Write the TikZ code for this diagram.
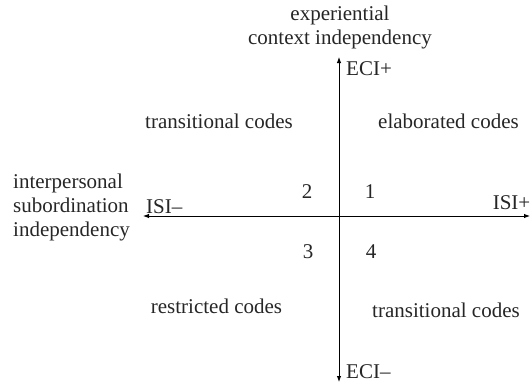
\documentclass[tikz,border=0pt]{standalone}
\usepackage{fontspec}
\setmainfont{Liberation Serif}
\usetikzlibrary{positioning,arrows.meta}

\begin{document}
\begin{tikzpicture}[
    x=1pt, y=-1pt,
    axis/.style={draw, line width=0.9pt, {Latex[length=6pt,width=4.5pt]}-{Latex[length=6pt,width=4.5pt]}},
    every node/.style={inner sep=0pt, font=\fontsize{21}{24}\selectfont, text=black!85}
]
\useasboundingbox (0,0) rectangle (531,383);

% axis ends
\coordinate (top) at (339,57);
\coordinate (bottom) at (339,382);
\coordinate (left) at (143,216);
\coordinate (right) at (530,216);

\draw[axis] (top) -- (bottom);
\draw[axis] (left) -- (right);

% axis titles
\node[anchor=south, align=center] (ecititle) at (340,49.6) {experiential\\context independency};
\node[anchor=south west, align=left] (isititle) at (13,241.6) {interpersonal\\subordination\\independency};

\node[anchor=base west] (eciplus) at (346,75) {ECI+};
\node[anchor=base west] (eciminus) at (346,378) {ECI–};
\node[anchor=base west] (isiminus) at (146,213) {ISI–};
\node[anchor=base east] (isiplus) at (530.5,209) {ISI+};

% quadrants
\node[anchor=base] (q1) at (370,198) {1};
\node[anchor=base] (q2) at (307,198) {2};
\node[anchor=base] (q3) at (308,258) {3};
\node[anchor=base] (q4) at (371,258) {4};

% codes
\node[anchor=base] (trans1) at (219,128) {transitional codes};
\node[anchor=base] (elab) at (448.5,128) {elaborated codes};
\node[anchor=base] (restr) at (216.5,313) {restricted codes};
\node[anchor=base] (trans2) at (446,317) {transitional codes};
\end{tikzpicture}
\end{document}
